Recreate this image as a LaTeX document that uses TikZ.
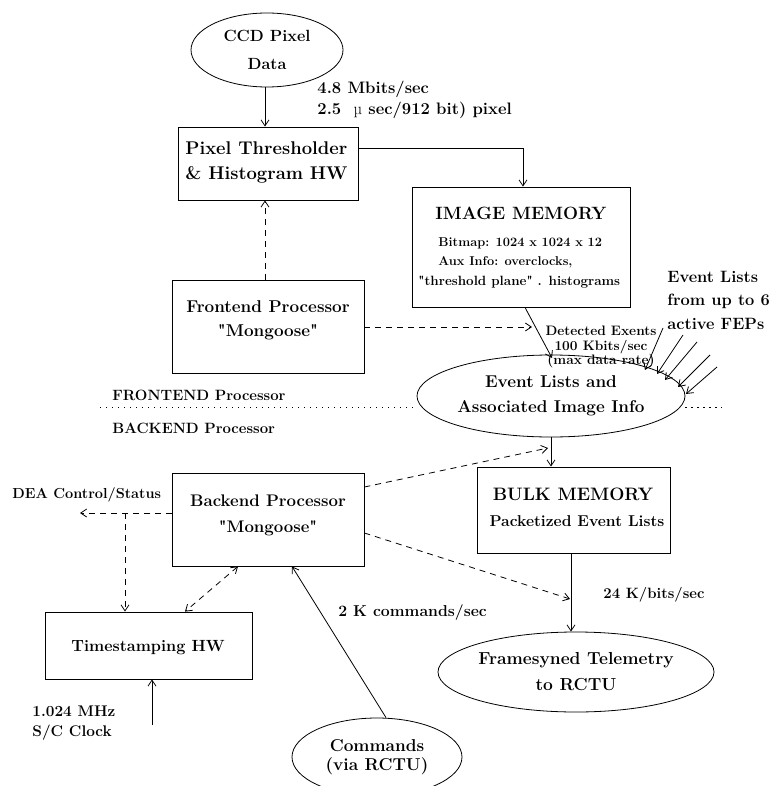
\documentclass[tikz,border=0pt]{standalone}
\usetikzlibrary{arrows.meta,shapes.geometric}
\newcommand\fz[2]{\bfseries\fontsize{#1}{#2}\selectfont}
\begin{document}
\begin{tikzpicture}[x=1pt,y=-1pt,>={Straight Barb[length=6pt,width=8pt]},line width=0.8pt,
  every node/.style={inner sep=0pt},
  box/.style={draw,rectangle},
  ell/.style={draw,ellipse},
  dsh/.style={dash pattern=on 6pt off 5pt},
  dot/.style={dash pattern=on 1.2pt off 4.8pt}]
\useasboundingbox (0,0) rectangle (773,786);
% boxes
\node[box,minimum width=180pt,minimum height=73pt] (pix) at (268,163.5) {};
\node[box,minimum width=218pt,minimum height=120pt] (img) at (521,247) {};
\node[box,minimum width=192pt,minimum height=93pt] (fep) at (268,326.5) {};
\node[box,minimum width=192pt,minimum height=93pt] (bep) at (268,519.5) {};
\node[box,minimum width=193pt,minimum height=86pt] (bulk) at (573.5,510) {};
\node[box,minimum width=207pt,minimum height=67pt] (ts) at (148.5,645.5) {};
% ellipses
\node[ell,minimum width=152pt,minimum height=74pt,align=center,font=\fz{16.2}{28}] (ccd) at (267,50) {CCD Pixel\\Data};
\node[ell,minimum width=268pt,minimum height=82pt,align=center,font=\fz{17.1}{25}] (ev) at (551,396) {Event Lists and\\Associated Image Info};
\node[ell,minimum width=266pt,minimum height=80pt,align=center,font=\fz{17.4}{26}] (fs) at (576,672) {Framesyned Telemetry\\to RCTU};
\node[ell,minimum width=170pt,minimum height=78pt,align=center,font=\fz{17.2}{19.5}] (cmd) at (377,757) {Commands\\(via RCTU)};
% box texts
\node[align=left,anchor=west,font=\fz{18.4}{25}] (pixt) at (185,162.5) {Pixel Thresholder\\\& Histogram HW};
\node[align=center,font=\fz{17.1}{24}] (fept) at (268,320) {Frontend Processor\\\textquotedbl Mongoose\textquotedbl};
\node[align=center,font=\fz{16.8}{26}] (bept) at (268,515) {Backend Processor\\\textquotedbl Mongoose\textquotedbl};
\node[font=\fz{16.2}{20}] (tst) at (148,648) {Timestamping HW};
\node[font=\fz{17.8}{22}] (imgt) at (521,213) {IMAGE MEMORY};
\node[font=\fz{12.8}{19}, anchor=west] (imga) at (438,243) {Bitmap: 1024 x 1024 x 12};
\node[font=\fz{12.8}{19}, anchor=west] (imgb) at (438,262.5) {Aux Info: overclocks,};
\node[font=\fz{13.4}{19}, anchor=west] (imgc) at (418,282) {\textquotedbl threshold plane\textquotedbl\ . histograms};
\node[font=\fz{18}{22}] (bulkt) at (573,494) {BULK MEMORY};
\node[font=\fz{15.7}{20}] (bulks) at (577,521) {Packetized Event Lists};
% labels
\node[align=left,anchor=west,font=\fz{16.6}{21}] (rate) at (317,99.5) {4.8 Mbits/sec\\2.5 \ {\mdseries µ} sec/912 bit) pixel};
\node[align=center,font=\fz{13.7}{14.5}] (det) at (601,347) {Detected Exents\\100 Kbits/sec\\(max data rate)};
\node[align=left,anchor=west,font=\fz{16.4}{23.5}] (ffep) at (667,300) {Event Lists\\from up to 6\\active FEPs};
\node[font=\fz{14.9}{20},anchor=west] (front) at (112,395) {FRONTEND Processor};
\node[font=\fz{14.9}{20},anchor=west] (back) at (112,428) {BACKEND Processor};
\node[font=\fz{14.5}{20},anchor=west] (dea) at (12,495) {DEA Control/Status};
\node[font=\fz{14.9}{20},anchor=west] (tel) at (603,595) {24 K/bits/sec};
\node[font=\fz{15.8}{20},anchor=west] (cmds) at (338,613) {2 K commands/sec};
\node[font=\fz{15.4}{20},align=left,anchor=west] (clkt) at (32,723) {1.024 MHz\\S/C Clock};
% coordinates
\coordinate (detin) at (532,327);
\coordinate (evin) at (552,358);
\coordinate (dl) at (100,407);
\coordinate (dr) at (722,407);
\coordinate (bkin) at (548,448);
\coordinate (tlin) at (570,599);
\coordinate (deaend) at (80,513);
\coordinate (deaj) at (125,513);
\coordinate (clk) at (152,725);
\coordinate (a1) at (663,328); \coordinate (b1) at (645,370);
\coordinate (a2) at (683,335); \coordinate (b2) at (657,374);
\coordinate (a3) at (697,342); \coordinate (b3) at (665,380);
\coordinate (a4) at (710,355); \coordinate (b4) at (678,387);
\coordinate (a5) at (717,367); \coordinate (b5) at (686,394);
% connectors
\draw[->] (ccd.south -| 265,0) -- (pix.north -| 265,0);
\draw[->] ([yshift=15.5pt]pix.east) -| ([xshift=2pt]img.north);
\draw[->,dsh] (fep.north -| 265,0) -- (pix.south -| 265,0);
\draw[->,dsh] (fep.east |- detin) -- (detin);
\draw[->] ([xshift=4pt]img.south) -- (evin);
\foreach \i in {1,...,5} \draw[->] (a\i) -- (b\i);
\draw[dot] (dl) -- (dl -| ev.west);
\draw[dot] (dr -| ev.east) -- (dr);
\draw[->] (ev.south) -- (ev.south |- bulk.north);
\draw[->] ([xshift=-2.5pt]bulk.south) -- ([xshift=-2.5pt]bulk.south |- fs.north);
\draw[->,dsh] ([yshift=32.5pt]bep.east) -- (bkin);
\draw[->,dsh] ([yshift=-13.5pt]bep.east) -- (tlin);
\draw[->,dsh] (bep.west |- deaend) -- (deaend);
\draw[->,dsh] (deaj) -- (deaj |- ts.north);
\draw[<->,dsh] ([xshift=-30pt]bep.south) -- ([xshift=36.5pt]ts.north);
\draw[->] ([xshift=9pt]cmd.north) -- ([xshift=24pt]bep.south);
\draw[->] (clk) -- (clk |- ts.south);
\end{tikzpicture}
\end{document}
